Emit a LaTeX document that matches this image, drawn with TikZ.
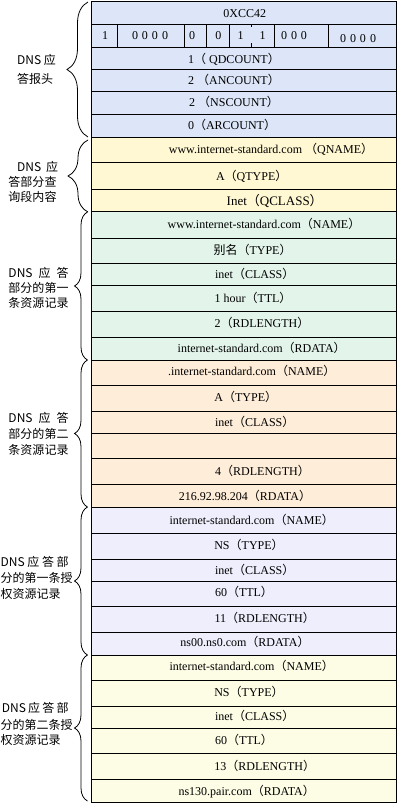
\documentclass[tikz,border=0pt]{standalone}
\usepackage{fontspec}
\setmainfont{Liberation Serif}
\newfontfamily\cjk{Noto Sans CJK SC}
\usetikzlibrary{decorations.pathreplacing}
\definecolor{hdrc}{HTML}{DCE6F8}
\definecolor{qryc}{HTML}{FFF8D2}
\definecolor{ansa}{HTML}{E3F5EB}
\definecolor{ansb}{HTML}{FEEDD8}
\definecolor{auta}{HTML}{EEEEFC}
\definecolor{autb}{HTML}{FDFDE6}
\newcommand{\lp}{{\cjk （}}
\newcommand{\rp}{{\cjk ）}}
\newcommand{\tabrow}[4]{%
  \pgfmathsetmacro{\myrowh}{#3-#2}\pgfmathsetmacro{\myrowc}{(#2+#3)/2}%
  \node[rowcell, fill=#4, minimum height=\myrowh pt] (#1) at (243.5,\myrowc) {};}
\newcommand{\bitcell}[4]{%
  \pgfmathsetmacro{\mycellw}{#3-#2}\pgfmathsetmacro{\mycellc}{(#2+#3)/2}%
  \node[bitbox, fill=#4, minimum width=\mycellw pt] (#1) at (\mycellc,36) {};}
\begin{document}
\begin{tikzpicture}[x=1pt,y=-1pt,
  rowcell/.style={draw=black, line width=1pt, minimum width=305pt, inner sep=0pt, outer sep=0pt},
  bitbox/.style={draw=black, line width=1pt, minimum height=23pt, inner sep=0pt, outer sep=0pt},
  txt/.style={inner sep=0pt, anchor=center, yshift=-1pt, text height=9pt, text depth=3pt, font=\fontsize{12}{14}\selectfont},
  lbl/.style={inner sep=0pt, anchor=west, text height=10pt, text depth=2pt, font=\cjk\fontsize{12}{14}\selectfont},
  brc/.style={draw=black, line width=0.8pt, decorate}]
\fill[white] (0,0) rectangle (400,810);
\useasboundingbox (0,0) rectangle (400,810);
% header
\tabrow{h1}{1.5}{24.5}{hdrc}
\bitcell{b1}{91}{117.3}{hdrc}
\bitcell{b2}{117.3}{184}{hdrc}
\bitcell{b3}{184}{206.7}{hdrc}
\bitcell{b4}{206.7}{229.3}{hdrc}
\bitcell{b5}{229.3}{274.3}{hdrc}
\bitcell{b6}{274.3}{328.3}{hdrc}
\bitcell{b7}{328.3}{396}{hdrc}
\draw[line width=0.8pt] (b5.north) -- ++(0,3);
\draw[line width=0.8pt] (b5.south) -- ++(0,-4);
\tabrow{h3}{47.5}{69.5}{hdrc}
\tabrow{h4}{69.5}{92}{hdrc}
\tabrow{h5}{92}{114.5}{hdrc}
\tabrow{h6}{114.5}{137.5}{hdrc}
% query
\tabrow{q1}{137.5}{163}{qryc}
\tabrow{q2}{163}{190}{qryc}
\tabrow{q3}{190}{212}{qryc}
% answer 1
\tabrow{a1}{212}{238}{ansa}
\tabrow{a2}{238}{263.5}{ansa}
\tabrow{a3}{263.5}{285}{ansa}
\tabrow{a4}{285}{311.5}{ansa}
\tabrow{a5}{311.5}{337}{ansa}
\tabrow{a6}{337}{360.5}{ansa}
% answer 2
\tabrow{c1}{360.5}{385.5}{ansb}
\tabrow{c2}{385.5}{411}{ansb}
\tabrow{c3}{411}{433.5}{ansb}
\tabrow{c4}{433.5}{458.5}{ansb}
\tabrow{c5}{458.5}{484.5}{ansb}
\tabrow{c6}{484.5}{507}{ansb}
% authority 1
\tabrow{d1}{507}{533.5}{auta}
\tabrow{d2}{533.5}{559}{auta}
\tabrow{d3}{559}{581}{auta}
\tabrow{d4}{581}{606.5}{auta}
\tabrow{d5}{606.5}{632}{auta}
\tabrow{d6}{632}{655}{auta}
% authority 2
\tabrow{e1}{655}{680.5}{autb}
\tabrow{e2}{680.5}{706}{autb}
\tabrow{e3}{706}{728}{autb}
\tabrow{e4}{728}{753.5}{autb}
\tabrow{e5}{753.5}{779.5}{autb}
\tabrow{e6}{779.5}{802.5}{autb}
% texts header
\node[txt] (th1) at (244.7,13.5) {0XCC42};
\node[txt] (tb1) at (105,36) {1};
\node[txt] (tb2) at (150,36) {0\hspace{4pt}0\hspace{4pt}0\hspace{4pt}0};
\node[txt] (tb3) at (192,36) {0};
\node[txt] (tb4) at (218.3,36) {0};
\node[txt] (tb5) at (240.7,36) {1};
\node[txt] (tb6) at (262.7,36) {1};
\node[txt] (tb7) at (294,36) {0\hspace{4pt}0\hspace{4pt}0};
\node[txt] (tb8) at (358,38.5) {0\hspace{4pt}0\hspace{4pt}0\hspace{4pt}0};
\node[txt] (th3) at (234,60) {1\lp\ QDCOUNT\rp};
\node[txt] (th4) at (234,81) {2 \lp ANCOUNT\rp};
\node[txt] (th5) at (234,103) {2 \lp NSCOUNT\rp};
\node[txt] (th6) at (232,125.5) {0\lp ARCOUNT\rp};
% texts query
\node[txt] (tq1) at (271,150) {www.internet-standard.com \lp QNAME\rp};
\node[txt] (tq2) at (251.7,176.5) {A\lp QTYPE\rp};
\node[txt, font=\fontsize{13}{15}\selectfont] (tq3) at (274.7,201.5) {Inet\lp QCLASS\rp};
% answer 1
\node[txt] (ta1) at (264,225) {www.internet-standard.com\lp NAME\rp};
\node[txt] (ta2) at (252.5,250) {{\cjk 别名}\lp TYPE\rp};
\node[txt] (ta3) at (254.7,274.5) {inet\lp CLASS\rp};
\node[txt] (ta4) at (253,298.5) {1 hour\lp TTL\rp};
\node[txt] (ta5) at (262,323.5) {2\lp RDLENGTH\rp};
\node[txt] (ta6) at (261.7,348.5) {internet-standard.com\lp RDATA\rp};
% answer 2
\node[txt] (tc1) at (251.7,371.7) {.internet-standard.com\lp NAME\rp};
\node[txt] (tc2) at (245.8,397.5) {A\lp TYPE\rp};
\node[txt] (tc3) at (254.7,422.5) {inet\lp CLASS\rp};
\node[txt] (tc5) at (262.5,471) {4\lp RDLENGTH\rp};
\node[txt] (tc6) at (245,496.5) {216.92.98.204\lp RDATA\rp};
% authority 1
\node[txt] (td1) at (251.7,520) {internet-standard.com\lp NAME\rp};
\node[txt] (td2) at (249,545) {NS\lp TYPE\rp};
\node[txt] (td3) at (254.7,570) {inet\lp CLASS\rp};
\node[txt] (td4) at (244,592) {60\lp TTL\rp};
\node[txt] (td5) at (264.7,618.3) {11\lp RDLENGTH\rp};
\node[txt] (td6) at (245,642.5) {ns00.ns0.com\lp RDATA\rp};
% authority 2
\node[txt] (te1) at (251.7,666.7) {internet-standard.com\lp NAME\rp};
\node[txt] (te2) at (249,692.7) {NS\lp TYPE\rp};
\node[txt] (te3) at (254.7,716.7) {inet\lp CLASS\rp};
\node[txt] (te4) at (244,740) {60\lp TTL\rp};
\node[txt] (te5) at (264.7,766) {13\lp RDLENGTH\rp};
\node[txt] (te6) at (246.7,791.7) {ns130.pair.com\lp RDATA\rp};
% braces
\coordinate (k1a) at (88,137);  \coordinate (k1b) at (88,2);
\coordinate (k2a) at (88,212);  \coordinate (k2b) at (88,140);
\coordinate (k3a) at (87.5,360); \coordinate (k3b) at (87.5,212);
\coordinate (k4a) at (87.5,507); \coordinate (k4b) at (87.5,360);
\coordinate (k5a) at (87.5,655); \coordinate (k5b) at (87.5,507);
\coordinate (k6a) at (87.5,801); \coordinate (k6b) at (87.5,655);
\draw[brc, decoration={brace, amplitude=21pt}] (k1a) -- (k1b);
\draw[brc, decoration={brace, amplitude=20pt}] (k2a) -- (k2b);
\draw[brc, decoration={brace, amplitude=13pt}] (k3a) -- (k3b);
\draw[brc, decoration={brace, amplitude=13pt}] (k4a) -- (k4b);
\draw[brc, decoration={brace, amplitude=13pt}] (k5a) -- (k5b);
\draw[brc, decoration={brace, amplitude=13pt}] (k6a) -- (k6b);
% labels
\node[lbl] (l1a) at (17,61) {DNS 应};
\node[lbl] (l1b) at (17,80) {答报头};
\node[lbl] (l2a) at (17,168) {\makebox[41pt][s]{DNS\hfill 应}};
\node[lbl] (l2b) at (8.3,183) {答部分查};
\node[lbl] (l2c) at (8.3,198) {询段内容};
\node[lbl] (l3a) at (8.3,273) {\makebox[60pt][s]{DNS\hfill 应\hfill 答}};
\node[lbl] (l3b) at (8.3,288) {部分的第一};
\node[lbl] (l3c) at (8.3,303) {条资源记录};
\node[lbl] (l4a) at (8.3,418) {\makebox[60pt][s]{DNS\hfill 应\hfill 答}};
\node[lbl] (l4b) at (8.3,434) {部分的第二};
\node[lbl] (l4c) at (8.3,450) {条资源记录};
\node[lbl] (l5a) at (0.5,562) {\makebox[68pt][s]{DNS\hfill 应\hfill 答\hfill 部}};
\node[lbl] (l5b) at (0.5,578) {分的第一条授};
\node[lbl] (l5c) at (0.5,594) {权资源记录};
\node[lbl] (l6a) at (1.7,708) {\makebox[66.6pt][s]{DNS\hfill 应\hfill 答\hfill 部}};
\node[lbl] (l6b) at (0.5,725) {分的第二条授};
\node[lbl] (l6c) at (0.5,740) {权资源记录};
\end{tikzpicture}
\end{document}
